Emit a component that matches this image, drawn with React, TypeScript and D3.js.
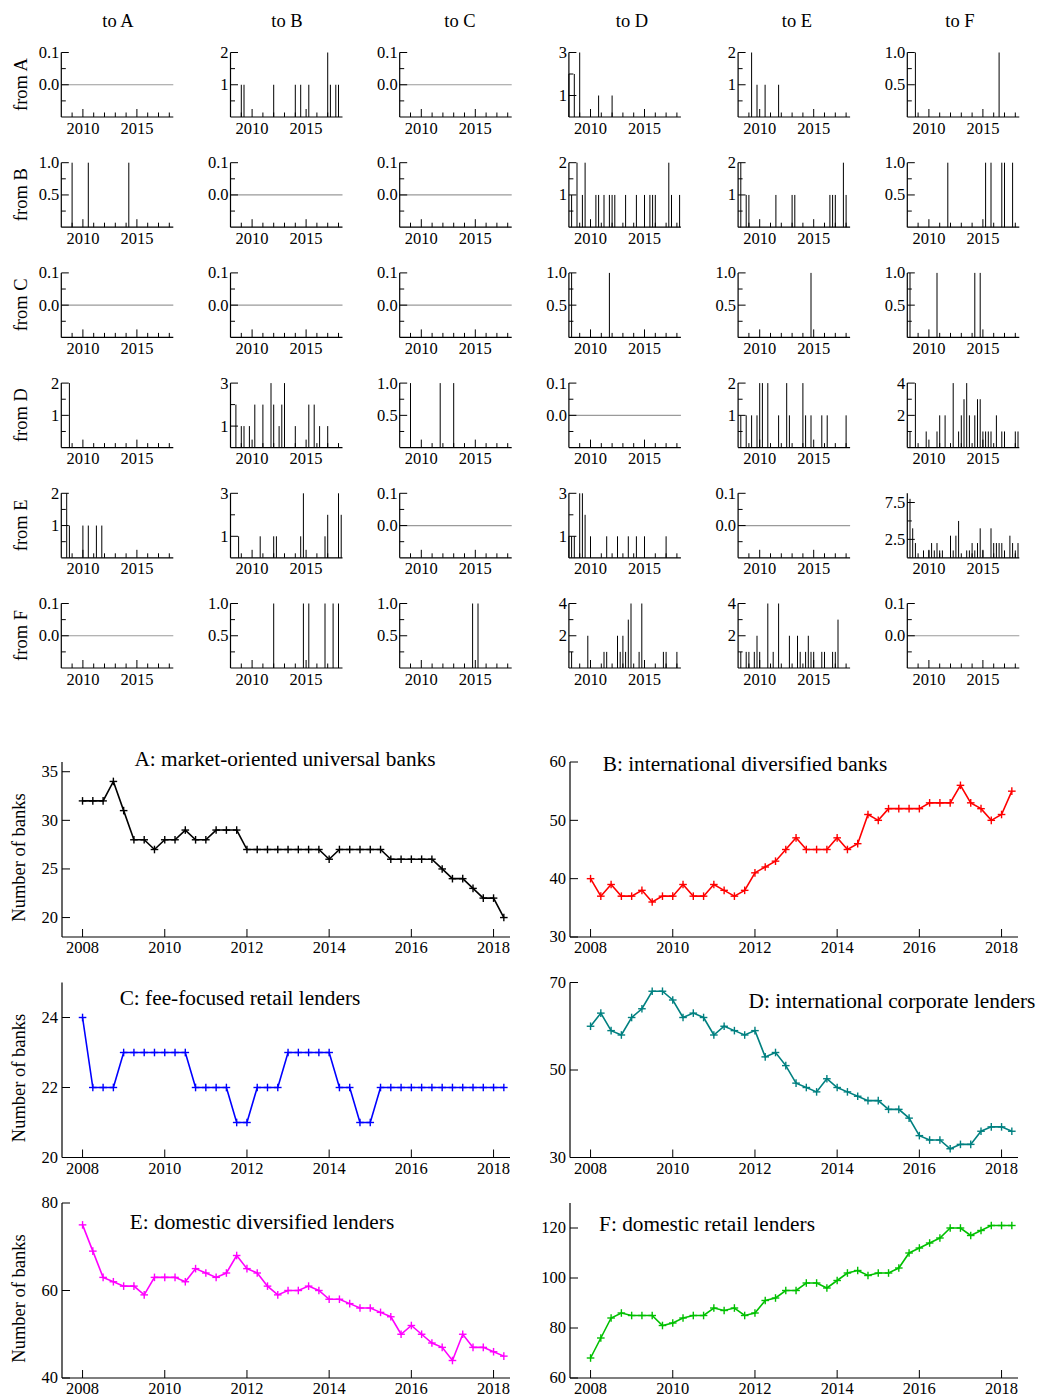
import React from 'react';
import * as d3 from 'd3';

// ---------- categories ----------
const banks = ['A', 'B', 'C', 'D', 'E', 'F'];

// quarterly dates of the time series
const quarters = [
  2008.0, 2008.25, 2008.5, 2008.75, 2009.0, 2009.25, 2009.5, 2009.75,
  2010.0, 2010.25, 2010.5, 2010.75, 2011.0, 2011.25, 2011.5, 2011.75,
  2012.0, 2012.25, 2012.5, 2012.75, 2013.0, 2013.25, 2013.5, 2013.75,
  2014.0, 2014.25, 2014.5, 2014.75, 2015.0, 2015.25, 2015.5, 2015.75,
  2016.0, 2016.25, 2016.5, 2016.75, 2017.0, 2017.25, 2017.5, 2017.75,
  2018.0, 2018.25,
];

// ---------- transitions (date, count) ----------
const fromA_toB = [[2009.0, 1], [2009.25, 1], [2012.0, 1], [2014.0, 1], [2014.5, 1], [2015.25, 1], [2017.0, 2], [2017.25, 1], [2017.75, 1], [2018.0, 1]];
const fromA_toD = [[2008.0, 2], [2008.5, 2], [2009.0, 3], [2010.75, 1], [2012.0, 1]];
const fromA_toE = [[2009.25, 2], [2009.75, 1], [2010.5, 1], [2011.75, 1]];
const fromA_toF = [[2008.75, 1], [2016.5, 1]];
const fromB_toA = [[2009.0, 1], [2010.5, 1], [2014.25, 1]];
const fromB_toD = [[2008.25, 1], [2008.75, 2], [2009.25, 1], [2009.5, 2], [2010.5, 1], [2010.75, 1], [2011.25, 1], [2011.75, 1], [2012.0, 1], [2012.25, 1], [2013.25, 1], [2014.25, 1], [2015.0, 1], [2015.5, 1], [2015.75, 1], [2016.0, 1], [2017.25, 2], [2017.5, 1], [2018.25, 1]];
const fromB_toE = [[2008.25, 2], [2008.75, 1], [2009.0, 1], [2011.5, 1], [2013.0, 1], [2013.25, 1], [2016.5, 1], [2016.75, 1], [2017.0, 1], [2017.75, 2], [2018.0, 1]];
const fromB_toF = [[2011.75, 1], [2015.25, 1], [2015.75, 1], [2016.75, 1], [2017.0, 1], [2017.75, 1]];
const fromC_toD = [[2008.25, 1], [2011.75, 1]];
const fromC_toE = [[2014.75, 1]];
const fromC_toF = [[2008.25, 1], [2010.75, 1], [2014.25, 1], [2014.75, 1]];
const fromD_toA = [[2008.75, 2]];
const fromD_toB = [[2008.5, 2], [2009.0, 1], [2009.25, 1], [2009.75, 1], [2010.25, 2], [2011.0, 2], [2011.75, 3], [2012.0, 2], [2012.5, 1], [2012.75, 2], [2013.0, 3], [2014.0, 1], [2015.25, 2], [2015.75, 2], [2016.25, 1], [2017.0, 1]];
const fromD_toC = [[2009.0, 1], [2011.75, 1], [2013.0, 1]];
const fromD_toE = [[2008.25, 1], [2008.75, 1], [2009.25, 1], [2009.75, 1], [2010.0, 2], [2010.25, 2], [2010.75, 2], [2011.75, 1], [2012.5, 2], [2012.75, 1], [2014.0, 2], [2014.25, 1], [2014.75, 1], [2015.75, 1], [2016.25, 1], [2018.0, 1]];
const fromD_toF = [[2008.25, 1], [2008.75, 4], [2009.75, 1], [2010.75, 1], [2011.0, 2], [2011.5, 2], [2012.25, 4], [2012.75, 1], [2013.0, 2], [2013.25, 3], [2013.5, 4], [2013.75, 2], [2014.25, 2], [2014.5, 3], [2014.75, 3], [2015.0, 1], [2015.25, 1], [2015.5, 1], [2015.75, 1], [2016.25, 2], [2016.75, 1], [2017.0, 1], [2018.0, 1], [2018.25, 1]];
const fromE_toA = [[2008.5, 2], [2008.75, 1], [2010.0, 1], [2010.5, 1], [2011.25, 1], [2011.75, 1]];
const fromE_toB = [[2008.75, 1], [2010.75, 1], [2012.0, 1], [2012.25, 1], [2014.5, 1], [2014.75, 3], [2016.75, 1], [2017.0, 2], [2018.0, 3], [2018.25, 2]];
const fromE_toD = [[2008.0, 1], [2008.25, 1], [2008.5, 1], [2009.0, 3], [2009.25, 3], [2009.5, 2], [2010.0, 1], [2011.5, 1], [2012.5, 1], [2013.5, 1], [2014.25, 1], [2015.0, 1], [2017.0, 1]];
const fromE_toF = [[2008.25, 8], [2008.5, 4], [2008.75, 2], [2009.5, 1], [2010.0, 1], [2010.25, 2], [2010.5, 1], [2010.75, 2], [2011.0, 1], [2011.25, 1], [2012.0, 3], [2012.25, 1], [2012.5, 3], [2012.75, 5], [2013.5, 1], [2013.75, 1], [2014.0, 2], [2014.25, 1], [2014.5, 2], [2014.75, 4], [2015.0, 1], [2015.75, 4], [2016.0, 2], [2016.25, 2], [2016.5, 2], [2016.75, 2], [2017.0, 1], [2017.5, 3], [2017.75, 2], [2018.0, 1], [2018.25, 2]];
const fromF_toB = [[2012.0, 1], [2014.75, 1], [2015.25, 1], [2016.75, 1], [2017.5, 1], [2018.0, 1]];
const fromF_toC = [[2014.75, 1], [2015.25, 1]];
const fromF_toD = [[2008.25, 1], [2009.75, 2], [2011.25, 1], [2011.5, 1], [2012.5, 2], [2012.75, 1], [2013.0, 2], [2013.25, 1], [2013.5, 3], [2013.75, 4], [2014.5, 1], [2014.75, 4], [2016.75, 1], [2017.0, 1], [2018.0, 1]];
const fromF_toE = [[2008.25, 1], [2008.75, 1], [2009.0, 1], [2009.5, 1], [2009.75, 2], [2010.0, 1], [2010.75, 4], [2011.25, 1], [2011.75, 4], [2012.75, 2], [2013.5, 2], [2013.75, 1], [2014.25, 1], [2014.5, 2], [2014.75, 1], [2015.0, 1], [2015.75, 1], [2016.0, 1], [2016.75, 1], [2017.0, 1], [2017.25, 3]];
const none: number[][] = [];

// rows = from, columns = to
const flows = [
  [none, fromA_toB, none, fromA_toD, fromA_toE, fromA_toF],
  [fromB_toA, none, none, fromB_toD, fromB_toE, fromB_toF],
  [none, none, none, fromC_toD, fromC_toE, fromC_toF],
  [fromD_toA, fromD_toB, fromD_toC, none, fromD_toE, fromD_toF],
  [fromE_toA, fromE_toB, none, fromE_toD, none, fromE_toF],
  [none, fromF_toB, fromF_toC, fromF_toD, fromF_toE, none],
];

// ---------- number of banks per cluster ----------
const countA = [32, 32, 32, 34, 31, 28, 28, 27, 28, 28, 29, 28, 28, 29, 29, 29, 27, 27, 27, 27, 27, 27, 27, 27, 26, 27, 27, 27, 27, 27, 26, 26, 26, 26, 26, 25, 24, 24, 23, 22, 22, 20];
const countB = [40, 37, 39, 37, 37, 38, 36, 37, 37, 39, 37, 37, 39, 38, 37, 38, 41, 42, 43, 45, 47, 45, 45, 45, 47, 45, 46, 51, 50, 52, 52, 52, 52, 53, 53, 53, 56, 53, 52, 50, 51, 55];
const countC = [24, 22, 22, 22, 23, 23, 23, 23, 23, 23, 23, 22, 22, 22, 22, 21, 21, 22, 22, 22, 23, 23, 23, 23, 23, 22, 22, 21, 21, 22, 22, 22, 22, 22, 22, 22, 22, 22, 22, 22, 22, 22];
const countD = [60, 63, 59, 58, 62, 64, 68, 68, 66, 62, 63, 62, 58, 60, 59, 58, 59, 53, 54, 51, 47, 46, 45, 48, 46, 45, 44, 43, 43, 41, 41, 39, 35, 34, 34, 32, 33, 33, 36, 37, 37, 36];
const countE = [75, 69, 63, 62, 61, 61, 59, 63, 63, 63, 62, 65, 64, 63, 64, 68, 65, 64, 61, 59, 60, 60, 61, 60, 58, 58, 57, 56, 56, 55, 54, 50, 52, 50, 48, 47, 44, 50, 47, 47, 46, 45];
const countF = [68, 76, 84, 86, 85, 85, 85, 81, 82, 84, 85, 85, 88, 87, 88, 85, 86, 91, 92, 95, 95, 98, 98, 96, 99, 102, 103, 101, 102, 102, 104, 110, 112, 114, 116, 120, 120, 117, 119, 121, 121, 121];

const clusterTitles = [
  'A: market-oriented universal banks',
  'B: international diversified banks',
  'C: fee-focused retail lenders',
  'D: international corporate lenders',
  'E: domestic diversified lenders',
  'F: domestic retail lenders',
];
const yDomains = [[18, 36], [30, 60], [20, 25], [30, 70], [40, 80], [60, 130]];
const yTickVals = [[20, 25, 30, 35], [30, 40, 50, 60], [20, 22, 24], [30, 50, 70], [40, 60, 80], [60, 80, 100, 120]];
const xTickYears = [2008, 2010, 2012, 2014, 2016, 2018];
const gridYears = [2009, 2010, 2011, 2012, 2013, 2014, 2015, 2016, 2017, 2018];
const gridYearLabels = [2010, 2015];

const FONT = '"Liberation Serif", "DejaVu Serif", serif';

function yConfig(max: number) {
  if (max === 0) return { domain: [-0.1, 0.1], ticks: [-0.05, 0, 0.05, 0.1], labels: [0, 0.1], fmt: d3.format('.1f') };
  if (max <= 1) return { domain: [0, 1], ticks: [0.25, 0.5, 0.75, 1], labels: [0.5, 1], fmt: d3.format('.1f') };
  if (max <= 2) return { domain: [0, 2], ticks: [0.5, 1, 1.5, 2], labels: [1, 2], fmt: d3.format('d') };
  if (max <= 3) return { domain: [0, 3], ticks: [1, 2, 3], labels: [1, 3], fmt: d3.format('d') };
  if (max <= 4) return { domain: [0, 4], ticks: [1, 2, 3, 4], labels: [2, 4], fmt: d3.format('d') };
  return { domain: [0, 8.75], ticks: [2.5, 5, 7.5], labels: [2.5, 7.5], fmt: d3.format('.1f') };
}

function SpikePanel({ x0, y0, data }: { x0: number; y0: number; data: number[][] }) {
  const w = 112;
  const h = 64.5;
  const xs = d3.scaleLinear().domain([2008, 2018.37]).range([x0, x0 + w]);
  const max = data.length ? (d3.max(data, (d) => d[1]) as number) : 0;
  const cfg = yConfig(max);
  const ys = d3.scaleLinear().domain(cfg.domain).range([y0 + h, y0]);
  const yb = y0 + h;
  return (
    <g>
      {max === 0 && (
        <line x1={x0} x2={x0 + w} y1={ys(0)} y2={ys(0)} stroke="#9a9a9a" strokeWidth={1.2} />
      )}
      {data.map((d, i) => (
        <line key={i} x1={xs(d[0])} x2={xs(d[0])} y1={ys(0)} y2={ys(d[1])} stroke="#000" strokeWidth={1} />
      ))}
      <line x1={x0} x2={x0} y1={yb} y2={y0} stroke="#000" strokeWidth={1.2} />
      <line x1={x0} x2={x0 + w} y1={yb} y2={yb} stroke="#000" strokeWidth={1.2} />
      {cfg.ticks.map((t, i) => {
        const major = cfg.labels.includes(t);
        return (
          <line key={'yt' + i} x1={x0} x2={x0 + (major ? 7.5 : 4.5)} y1={ys(t)} y2={ys(t)} stroke="#000" strokeWidth={1} />
        );
      })}
      {cfg.labels.map((t, i) => (
        <text key={'yl' + i} x={x0 - 2} y={ys(t)} dy="0.33em" textAnchor="end" fontSize={16.5} fontFamily={FONT}>
          {cfg.fmt(t)}
        </text>
      ))}
      {gridYears.map((yr) => {
        const major = gridYearLabels.includes(yr);
        return (
          <line key={'xt' + yr} x1={xs(yr)} x2={xs(yr)} y1={yb} y2={yb - (major ? 8 : 4.5)} stroke="#000" strokeWidth={1} />
        );
      })}
      {gridYearLabels.map((yr) => (
        <text key={'xl' + yr} x={xs(yr)} y={yb + 16.5} textAnchor="middle" fontSize={16.5} fontFamily={FONT}>
          {yr}
        </text>
      ))}
    </g>
  );
}

function LinePanel({
  x0, y0, values, domainY, ticksY, color, title, tx, ty, showYLabel,
}: {
  x0: number; y0: number; values: number[]; domainY: number[]; ticksY: number[]; color: string;
  title: string; tx: number; ty: number; showYLabel: boolean;
}) {
  const w = 448;
  const h = 175;
  const xs = d3.scaleLinear().domain([2007.5, 2018.4]).range([x0, x0 + w]);
  const ys = d3.scaleLinear().domain(domainY).range([y0 + h, y0]);
  const yb = y0 + h;
  const pts = quarters.map((q, i) => [xs(q), ys(values[i])] as [number, number]);
  const line = d3.line()(pts) as string;
  const m = 3.8;
  return (
    <g>
      <line x1={x0} x2={x0} y1={yb} y2={y0} stroke="#000" strokeWidth={1.2} />
      <line x1={x0} x2={x0 + w} y1={yb} y2={yb} stroke="#000" strokeWidth={1.2} />
      {ticksY.map((t) => (
        <g key={'y' + t}>
          <line x1={x0} x2={x0 + 8} y1={ys(t)} y2={ys(t)} stroke="#000" strokeWidth={1} />
          <text x={x0 - 4} y={ys(t)} dy="0.33em" textAnchor="end" fontSize={16.5} fontFamily={FONT}>{t}</text>
        </g>
      ))}
      {xTickYears.map((yr) => (
        <g key={'x' + yr}>
          <line x1={xs(yr)} x2={xs(yr)} y1={yb} y2={yb - 8} stroke="#000" strokeWidth={1} />
          <text x={xs(yr)} y={yb + 16} textAnchor="middle" fontSize={16.5} fontFamily={FONT}>{yr}</text>
        </g>
      ))}
      <path d={line} fill="none" stroke={color} strokeWidth={1.6} />
      {pts.map((p, i) => (
        <g key={'m' + i} stroke={color} strokeWidth={1.4}>
          <line x1={p[0] - m} x2={p[0] + m} y1={p[1]} y2={p[1]} />
          <line x1={p[0]} x2={p[0]} y1={p[1] - m} y2={p[1] + m} />
        </g>
      ))}
      <text x={tx} y={ty} textAnchor="middle" fontSize={21.3} fontFamily={FONT}>{title}</text>
      {showYLabel && (
        <text transform={`translate(25,${y0 + h / 2 + 8}) rotate(-90)`} textAnchor="middle" fontSize={18.5} fontFamily={FONT}>
          Number of banks
        </text>
      )}
    </g>
  );
}

export default function App() {
  const colX = (c: number) => 61.3 + c * 169.2;
  const rowY = (r: number) => 52.5 + r * 110.2;
  const headX = [118, 287, 460, 632, 797, 960];
  const series = [countA, countB, countC, countD, countE, countF];
  const colors = ['#000000', '#ff0000', '#0000ff', '#008080', '#ff00ff', '#00c000'];
  const lineX = [62, 570];
  const lineY = [762, 982.5, 1203];
  const titlePos = [[285, 766], [745, 771], [240, 1005], [892, 1008], [262, 1229], [707, 1231]];
  return (
    <svg width={1037} height={1397} style={{ position: 'absolute', left: 0, top: 0, background: '#fff' }}>
      <rect x={0} y={0} width={1037} height={1397} fill="#fff" />
      {banks.map((b, c) => (
        <text key={'to' + b} x={headX[c]} y={27} textAnchor="middle" fontSize={18.5} fontFamily={FONT}>
          {'to ' + b}
        </text>
      ))}
      {banks.map((b, r) => (
        <text key={'from' + b} transform={`translate(26.5,${rowY(r) + 32}) rotate(-90)`} textAnchor="middle" fontSize={18.5} fontFamily={FONT}>
          {'from ' + b}
        </text>
      ))}
      {flows.map((row, r) =>
        row.map((data, c) => <SpikePanel key={r + '-' + c} x0={colX(c)} y0={rowY(r)} data={data} />)
      )}
      {series.map((vals, i) => (
        <LinePanel
          key={'lp' + i}
          x0={lineX[i % 2]}
          y0={lineY[Math.floor(i / 2)]}
          values={vals}
          domainY={yDomains[i]}
          ticksY={yTickVals[i]}
          color={colors[i]}
          title={clusterTitles[i]}
          tx={titlePos[i][0]}
          ty={titlePos[i][1]}
          showYLabel={i % 2 === 0}
        />
      ))}
    </svg>
  );
}
